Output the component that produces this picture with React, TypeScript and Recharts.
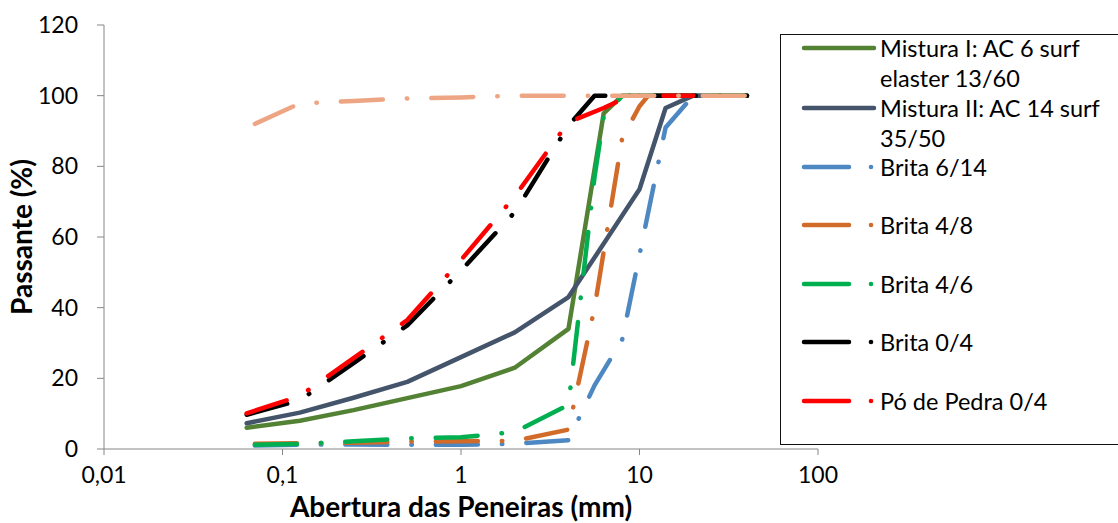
import { LineChart, Line, XAxis, YAxis } from 'recharts'

// sieve openings (mm)
const sieveSizes = [0.063, 0.07, 0.125, 0.25, 0.5, 1, 2, 4, 5.6, 6.3, 8, 10, 11.2, 14, 20, 31.5, 40]

// % passing, null where the sieve was not used
const misturaI = [6, null, 8, 11, 14.4, 17.8, 23, 34, null, 95, 100, 100, null, 100, 100, 100, 100]
const misturaII = [7.3, null, 10.3, 14.5, 19, 26, 33, 43, null, null, null, 73.5, null, 96.5, 100, 100, 100]
const brita614 = [null, 1, 1.2, 1.3, 1.2, 1.2, 1.5, 2.5, 18, null, 31, null, null, 91, 100, 100, 100]
const brita48 = [null, 1.5, 1.6, 1.8, 2.1, 2.2, 2.3, 5.5, 40, null, 88, 97, 100, 100, 100, 100, 100]
const brita46 = [null, 1.2, 1.4, 2.2, 3, 3.3, 4.8, 12.5, 77, 94, 100, 100, null, 100, 100, 100, 100]
const brita04 = [9.7, null, 13.8, 24.3, 35, 50.5, 67, 91.5, 100, 100, 100, 100, null, 100, 100, 100, 100]
const poPedra = [10.1, null, 15, 25.7, 36.5, 53.5, 71.5, 92.5, null, 96.5, 99, 100, null, 100, 100, null, null]
const filer = [null, 92, 97.8, 98.5, 99.2, 99.5, 100, 100, 100, 100, 100, 100, null, 100, 100, 100, 100]

const xTicks = [0.01, 0.1, 1, 10, 100]
const yTicks = [0, 20, 40, 60, 80, 100, 120]

const DASH_DOT = '42 24 0.5 24'

const series = [
  { key: 'm1', label: ['Mistura I: AC 6 surf', 'elaster 13/60'], values: misturaI, color: '#548235', dash: undefined },
  { key: 'm2', label: ['Mistura II: AC 14 surf', '35/50'], values: misturaII, color: '#44546A', dash: undefined },
  { key: 'b614', label: ['Brita 6/14'], values: brita614, color: '#4E88C2', dash: DASH_DOT },
  { key: 'b48', label: ['Brita 4/8'], values: brita48, color: '#D26B2A', dash: DASH_DOT },
  { key: 'b46', label: ['Brita 4/6'], values: brita46, color: '#00B050', dash: DASH_DOT },
  { key: 'b04', label: ['Brita 0/4'], values: brita04, color: '#000000', dash: DASH_DOT },
  { key: 'po', label: ['Pó de Pedra 0/4'], values: poPedra, color: '#FF0000', dash: DASH_DOT },
  { key: 'filer', label: [], values: filer, color: '#EEA584', dash: DASH_DOT },
]

const data = sieveSizes.map((size, i) => {
  const row: Record<string, number | null> = { size }
  series.forEach((s) => (row[s.key] = s.values[i]))
  return row
})

const FONT = 'Lato, "Open Sans", sans-serif'
const AXIS = '#868686'

// y centre of each legend entry (first text line)
const legendRows = [47, 107, 166, 224, 283, 341, 400]
const WRAP_STEP = 30

function LegendBox() {
  const items = series.filter((s) => s.label.length > 0)
  return (
    <div
      style={{
        position: 'absolute',
        left: 780,
        top: 34,
        width: 350,
        height: 411,
        border: '1.5px solid #111',
        background: '#fff',
        boxSizing: 'border-box',
      }}
    >
      {items.map((s, i) => {
        const cy = legendRows[i] - 34
        return (
          <div key={s.key}>
            <svg style={{ position: 'absolute', left: 0, top: cy - 6 }} width={100} height={12}>
              {s.dash ? (
                <>
                  <line x1={23} x2={68} y1={6} y2={6} stroke={s.color} strokeWidth={4.5} strokeLinecap="round" />
                  <circle cx={90} cy={6} r={2.3} fill={s.color} />
                </>
              ) : (
                <line x1={23} x2={93} y1={6} y2={6} stroke={s.color} strokeWidth={4.5} strokeLinecap="round" />
              )}
            </svg>
            {s.label.map((t, j) => (
              <div
                key={j}
                style={{
                  position: 'absolute',
                  left: 99,
                  top: cy - 12 + j * WRAP_STEP,
                  height: 24,
                  lineHeight: '24px',
                  fontFamily: FONT,
                  fontSize: 23.5,
                  color: '#000',
                  whiteSpace: 'nowrap',
                }}
              >
                {t}
              </div>
            ))}
          </div>
        )
      })}
    </div>
  )
}

export default function App() {
  return (
    <div style={{ position: 'absolute', left: 0, top: 0, width: 1118, height: 523, background: '#fff' }}>
      <LineChart
        width={1118}
        height={523}
        data={data}
        margin={{ top: 25, right: 300, bottom: 0, left: 0 }}
      >
        <XAxis
          dataKey="size"
          type="number"
          scale="log"
          domain={[0.01, 100]}
          ticks={xTicks}
          height={74}
          stroke={AXIS}
          tickSize={6}
          tickMargin={12}
          tick={{ fill: '#000', fontSize: 23, fontFamily: FONT }}
          tickFormatter={(v: number) => String(v).replace('.', ',')}
          label={{
            value: 'Abertura das Peneiras (mm)',
            position: 'center',
            dy: 21,
            style: { fontFamily: FONT, fontSize: 28, fontWeight: 700, fill: '#000' },
          }}
        />
        <YAxis
          type="number"
          domain={[0, 120]}
          ticks={yTicks}
          width={104}
          stroke={AXIS}
          tickSize={7}
          tickMargin={19}
          tick={{ fill: '#000', fontSize: 23, fontFamily: FONT }}
          label={{
            value: 'Passante (%)',
            angle: -90,
            position: 'center',
            dx: -30,
            style: { fontFamily: FONT, fontSize: 28, fontWeight: 700, fill: '#000' },
          }}
        />
        {series.map((s) => (
          <Line
            key={s.key}
            dataKey={s.key}
            name={s.label.join(' ')}
            type="linear"
            stroke={s.color}
            strokeWidth={4.5}
            strokeDasharray={s.dash}
            strokeLinecap="round"
            strokeLinejoin="round"
            dot={false}
            activeDot={false}
            connectNulls
            isAnimationActive={false}
          />
        ))}
      </LineChart>
      <LegendBox />
    </div>
  )
}
